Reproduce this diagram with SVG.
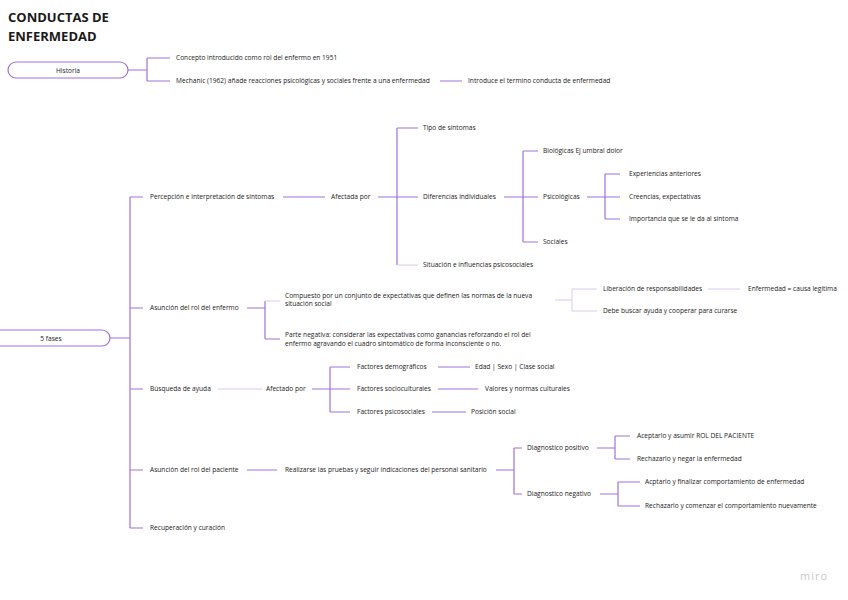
<svg xmlns="http://www.w3.org/2000/svg" width="848" height="600" viewBox="0 0 848 600">
<style>
text{font-family:"Open Sans","Noto Sans","Liberation Sans",sans-serif;font-size:6.6px;fill:#1a1a1a}
.title{font-size:13px;font-weight:bold;fill:#1a1a1a}
.c{fill:none;stroke:#9d72dc;stroke-width:1.2}
.l{fill:none;stroke:#d9c8f3;stroke-width:1}
.pill{fill:#fff;stroke:#9d72dc;stroke-width:1.2}
.mid{text-anchor:middle}
.miro{font-size:11px;fill:#c8c8c8;letter-spacing:1px}
</style>
<rect width="848" height="600" fill="#fff"/>
<text class="title" x="8" y="22">CONDUCTAS DE</text>
<text class="title" x="8" y="41">ENFERMEDAD</text>
<g id="connectors">
<path class="c" d="M128 70H147M147 58V81M147 58H170M147 81H170M440 81H462"/>
<path class="c" d="M110 338H130M130 197V528M130 197H143M130 308H143M130 389H143M130 470H143M130 528H143"/>
<path class="c" d="M283 197H325M378 197H397M397 128V265M397 128H418M397 197H418"/>
<path class="l" d="M397 265H418"/>
<path class="c" d="M504 197H523M523 151V242M523 151H538M523 197H538M523 242H538"/>
<path class="c" d="M587 197H605M605 174V219M605 174H620M605 197H620M605 219H620"/>
<path class="c" d="M247 308H265M265 301V339M265 339H280"/>
<path class="l" d="M265 301H280"/>
<path class="l" d="M555 300H572M572 289V311M572 289H597M572 311H597M708 289H740"/>
<path class="l" d="M218 389H262"/>
<path class="c" d="M312 389H330M330 367V412M330 367H350M330 389H350M330 412H350M438 367H470M438 389H478M432 412H466"/>
<path class="c" d="M247 470H277M496 470H514M514 448V494M514 448H522M514 494H522"/>
<path class="c" d="M597 448H615M615 436V459M615 436H630M615 459H630"/>
<path class="c" d="M600 494H618M618 482V506M618 482H640M618 506H640"/>
</g>
<g id="historia"><rect class="pill" x="8" y="62" width="120" height="16" rx="8"/><text class="mid" x="68" y="72.5">Historia</text></g>
<g id="h1"><text x="176" y="60">Concepto introducido como rol del enfermo en 1951</text></g>
<g id="h2"><text x="176" y="83">Mechanic (1962) añade reacciones psicológicas y sociales frente a una enfermedad</text></g>
<g id="h3"><text x="468" y="83">Introduce el termino conducta de enfermedad</text></g>
<g id="fases"><rect class="pill" x="-10" y="330" width="120" height="16" rx="8"/><text class="mid" x="51" y="340.5">5 fases</text></g>
<g id="f1"><text x="150" y="199">Percepción e interpretación de síntomas</text></g>
<g id="afectada"><text x="331" y="199">Afectada por</text></g>
<g id="tipo"><text x="423" y="130">Tipo de síntomas</text></g>
<g id="dif"><text x="423" y="199">Diferencias individuales</text></g>
<g id="sit"><text x="423" y="267">Situación e influencias psicosociales</text></g>
<g id="bio"><text x="543" y="153">Biológicas Ej umbral dolor</text></g>
<g id="psi"><text x="543" y="199">Psicológicas</text></g>
<g id="soc"><text x="543" y="244">Sociales</text></g>
<g id="exp"><text x="629" y="176">Experiencias anteriores</text></g>
<g id="cre"><text x="629" y="199">Creencias, expectativas</text></g>
<g id="imp"><text x="629" y="221">Importancia que se le da al síntoma</text></g>
<g id="f2"><text x="150" y="310">Asunción del rol del enfermo</text></g>
<g id="comp"><text x="285" y="297.5">Compuesto por un conjunto de expectativas que definen las normas de la nueva</text><text x="285" y="306">situación social</text></g>
<g id="neg"><text x="285" y="337">Parte negativa: considerar las expectativas como ganancias reforzando el rol del</text><text x="285" y="345.5">enfermo agravando el cuadro sintomático de forma inconsciente o no.</text></g>
<g id="lib"><text x="603" y="291">Liberación de responsabilidades</text></g>
<g id="leg"><text x="748" y="291">Enfermedad = causa legítima</text></g>
<g id="debe"><text x="603" y="313">Debe buscar ayuda y cooperar para curarse</text></g>
<g id="f3"><text x="150" y="391">Búsqueda de ayuda</text></g>
<g id="afectado"><text x="266" y="391">Afectado por</text></g>
<g id="dem"><text x="357" y="369">Factores demográficos</text></g>
<g id="edad"><text x="475" y="369">Edad | Sexo | Clase social</text></g>
<g id="socu"><text x="357" y="391">Factores socioculturales</text></g>
<g id="val"><text x="485" y="391">Valores y normas culturales</text></g>
<g id="psico"><text x="357" y="414">Factores psicosociales</text></g>
<g id="pos"><text x="471" y="414">Posición social</text></g>
<g id="f4"><text x="150" y="472">Asunción del rol del paciente</text></g>
<g id="real"><text x="285" y="472">Realizarse las pruebas y seguir indicaciones del personal sanitario</text></g>
<g id="dpos"><text x="527" y="450">Diagnostico positivo</text></g>
<g id="dneg"><text x="527" y="496">Diagnostico negativo</text></g>
<g id="acep"><text x="637" y="438">Aceptarlo y asumir ROL DEL PACIENTE</text></g>
<g id="rech"><text x="637" y="461">Rechazarlo y negar la enfermedad</text></g>
<g id="acfin"><text x="645" y="484">Acptarlo y finalizar comportamiento de enfermedad</text></g>
<g id="rechc"><text x="645" y="508">Rechazarlo y comenzar el comportamiento nuevamente</text></g>
<g id="f5"><text x="150" y="530">Recuperación y curación</text></g>
<text class="miro" x="800" y="580">miro</text>
</svg>
